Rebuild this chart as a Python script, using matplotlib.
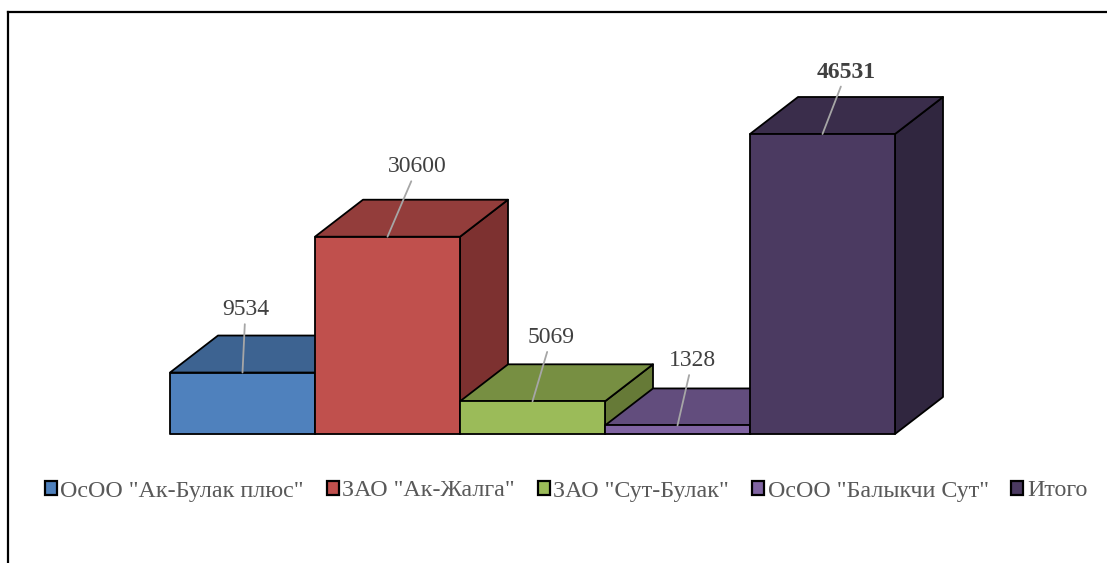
import matplotlib
matplotlib.use("Agg")
import matplotlib.pyplot as plt
from matplotlib.patches import Patch
from matplotlib.lines import Line2D

categories = ['ОсОО "Ак-Булак плюс"', 'ЗАО "Ак-Жалга"', 'ЗАО "Сут-Булак"',
              'ОсОО "Балыкчи Сут"', 'Итого']
values = [9534, 30600, 5069, 1328, 46531]
labels = ['9534', '30600', '5069', '1328', '46531']
bold_label = [False, False, False, False, True]

front_colors = ['#4F81BD', '#C0504D', '#9BBB59', '#8064A2', '#4B3A61']
top_colors = ['#3D6391', '#933D3B', '#778F42', '#624D7D', '#3A2D4B']
side_colors = ['#345277', '#7D3130', '#667A37', '#52406A', '#30263F']

# label offsets in pixels (dx, dy up)
label_offsets = [(3, 63), (30, 70), (19, 64), (15, 65), (24, 62)]

plt.rcParams['font.family'] = ['Liberation Serif', 'DejaVu Serif']

W, H, DPI = 1107, 563, 100
fig = plt.figure(figsize=(W / DPI, H / DPI), dpi=DPI)
ax = fig.add_axes([0, 0, 1, 1])
ax.set_axis_off()

# pixel geometry
slot_px = 145.0
left_px = 170.0
base_px_from_top = 434.0
val_per_px = 46531 / 300.0
depth_px = (48.0, 37.0)

xl = -0.5 - left_px / slot_px
ax.set_xlim(xl, xl + W / slot_px)
base_from_bottom = H - base_px_from_top
ax.set_ylim(-base_from_bottom * val_per_px, (H - base_from_bottom) * val_per_px)

ddx = depth_px[0] / slot_px
ddy = depth_px[1] * val_per_px
half = 0.5

# floor line
ax.plot([-0.5, len(values) - 0.5], [0, 0], color='#BFBFBF', lw=1.2, zorder=1)

ec = '#000000'
lw = 1.3
for i, v in enumerate(values):
    x0, x1 = i - half, i + half
    z = 10 + i * 3
    # side face
    ax.fill([x1, x1 + ddx, x1 + ddx, x1], [0, ddy, v + ddy, v],
            facecolor=side_colors[i], edgecolor=ec, lw=lw, zorder=z, joinstyle='round')
    # top face
    ax.fill([x0, x0 + ddx, x1 + ddx, x1], [v, v + ddy, v + ddy, v],
            facecolor=top_colors[i], edgecolor=ec, lw=lw, zorder=z + 1, joinstyle='round')
    # front face
    ax.fill([x0, x1, x1, x0], [0, 0, v, v],
            facecolor=front_colors[i], edgecolor=ec, lw=lw, zorder=z + 2, joinstyle='round')

pt = 72.0 / DPI
for i, v in enumerate(values):
    dx, dy = label_offsets[i]
    ax.annotate(labels[i], xy=(i, v), xytext=(dx * pt, dy * pt),
                textcoords='offset points', ha='center', va='center',
                fontsize=17, color='#404040',
                fontweight='bold' if bold_label[i] else 'normal',
                arrowprops=dict(arrowstyle='-', color='#A6A6A6', lw=1.3,
                                shrinkA=1, shrinkB=0),
                zorder=40)

handles = [Patch(facecolor=c, edgecolor='#000000', lw=1.6) for c in front_colors]
fig.legend(handles, categories, loc='center', bbox_to_anchor=(566 / W, 1 - 491 / H),
           ncol=5, frameon=False, fontsize=17.3, labelcolor='#595959',
           handlelength=0.5, handleheight=0.5, handletextpad=0.15,
           columnspacing=0.95, borderaxespad=0)

# outer frame lines (top and left)
fig.add_artist(Line2D([8 / W, 1.0], [1 - 12 / H, 1 - 12 / H], color='black', lw=1.6,
                      transform=fig.transFigure))
fig.add_artist(Line2D([8 / W, 8 / W], [0, 1 - 12 / H], color='black', lw=1.6,
                      transform=fig.transFigure))

fig.savefig('out.png', dpi=DPI)
